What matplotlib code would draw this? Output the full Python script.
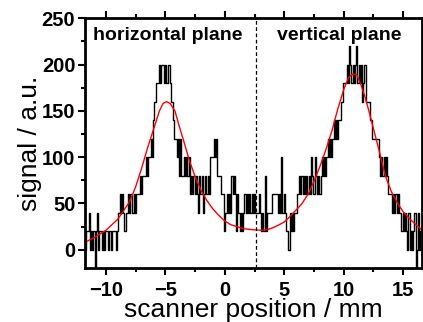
import matplotlib
matplotlib.use("Agg")
import matplotlib.pyplot as plt
import numpy as np
from matplotlib.ticker import MultipleLocator

plt.rcParams["font.family"] = ["Liberation Sans", "DejaVu Sans"]

# scanner signal, one sample every 0.1 mm starting at -11.8 mm
# each character is the level in steps of 20 a.u. ("n" = -20, "a" = 200, "b" = 220)
x_start = -11.8
x_step = 0.1
signal_levels = (
    "101120101n"
    "1201101011"
    "0110111012"
    "3232122323"
    "2232333434"
    "4454556578"
    "899a9aa9a9"
    "9a98876656"
    "4644545453"
    "4343432434"
    "2343435556"
    "5644433312"
    "3232434313"
    "2121232323"
    "2323222321"
    "2141222233"
    "3332325232"
    "1102121223"
    "3434343434"
    "3543543434"
    "5454565656"
    "7676778899"
    "9a9ba9a9ab"
    "9a9a89a888"
    "8766666654"
    "5454543332"
    "3232322121"
    "210201012n"
    "02010"
)
level_map = {"n": -1, "a": 10, "b": 11}

# fitted curve
fit_x = [-11.76, -11.0, -10.0, -9.0, -8.0, -7.5, -7.0, -6.5, -6.0, -5.5, -5.2,
         -4.9, -4.6, -4.2, -3.8, -3.4, -3.0, -2.5, -2.0, -1.5, -1.0, -0.5, 0.0,
         0.5, 1.0, 1.5, 2.0, 2.5, 3.0, 3.5, 4.0, 4.5, 5.0, 5.5, 6.0, 6.5, 7.0,
         7.5, 8.0, 8.5, 9.0, 9.5, 10.0, 10.4, 10.8, 11.1, 11.4, 11.8, 12.2,
         12.6, 13.0, 13.5, 14.0, 14.5, 15.0, 15.5, 16.0, 16.6]
fit_y = [8, 13, 21, 33, 52, 68, 88, 110, 130, 150, 158,
         160, 158, 150, 132, 115, 97, 79, 64, 53, 44, 37, 31,
         27, 25, 23, 22, 21.5, 21, 21.5, 23.5, 26.5, 30, 36, 43, 50, 60,
         74, 90, 108, 128, 152, 173, 186, 190, 189, 180, 165, 146,
         126, 106, 80, 63, 51, 41, 34, 28, 21]

divider_x = 2.6
panel_labels = ["horizontal plane", "vertical plane"]
panel_label_x = [-11.1, 4.4]

signal = np.array([20 * level_map[c] if c in level_map else 20 * int(c)
                   for c in signal_levels], dtype=float)
pos = x_start + x_step * np.arange(len(signal))

fig = plt.figure(figsize=(4.23, 3.22), dpi=100)
ax = fig.add_axes([0.201, 0.167, 0.797, 0.776])

ax.step(pos, signal, where="mid", color="black", lw=1.0)
ax.plot(fit_x, fit_y, color="red", lw=1.0)
ax.axvline(divider_x, color="black", lw=0.9, ls=(0, (3, 2)))

for label, lx in zip(panel_labels, panel_label_x):
    ax.text(lx, 232, label, fontsize=14, fontweight="bold", ha="left", va="center")

ax.set_xlim(-11.76, 16.6)
ax.set_ylim(-20, 250)
ax.xaxis.set_major_locator(MultipleLocator(5))
ax.xaxis.set_minor_locator(MultipleLocator(2.5))
ax.yaxis.set_major_locator(MultipleLocator(50))
ax.yaxis.set_minor_locator(MultipleLocator(25))

ax.tick_params(which="both", direction="out", top=True, right=True, width=1.5,
               labelsize=14.5)
ax.tick_params(which="major", length=5)
ax.tick_params(which="minor", length=3)
ax.tick_params(axis="x", which="major", pad=4)
ax.tick_params(axis="y", which="major", pad=2)
for lbl in ax.get_xticklabels() + ax.get_yticklabels():
    lbl.set_fontweight("bold")
for sp in ax.spines.values():
    sp.set_linewidth(2)

ax.set_xlabel("scanner position / mm", fontsize=19, labelpad=-1)
ax.set_ylabel("signal / a.u.", fontsize=19, labelpad=0)

fig.savefig("out.png", dpi=100)
